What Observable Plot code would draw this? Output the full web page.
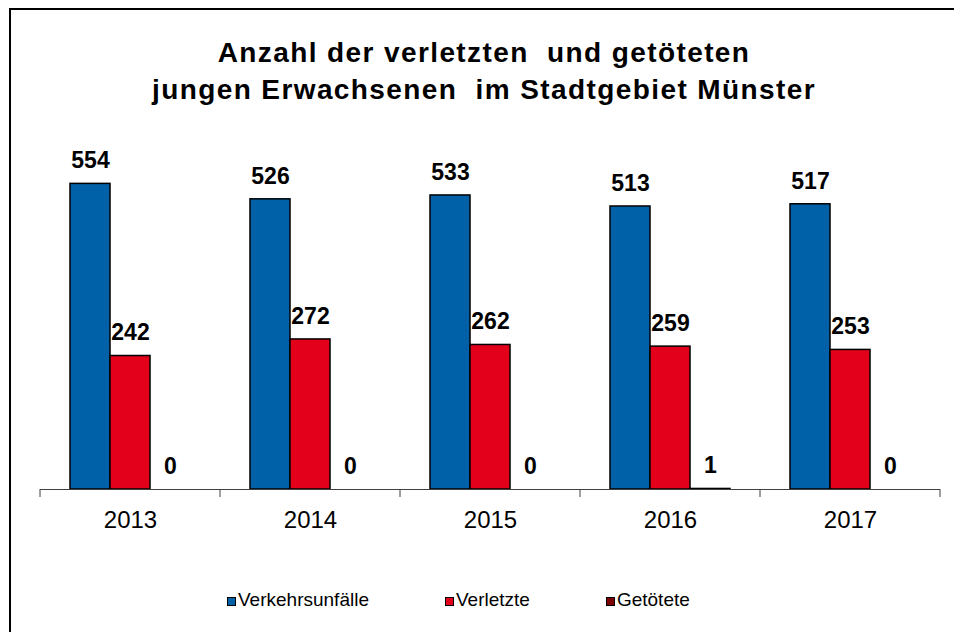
<!DOCTYPE html>
<html>
<head>
<meta charset="utf-8">
<script src="https://cdn.jsdelivr.net/npm/d3@7"></script>
<script src="https://cdn.jsdelivr.net/npm/@observablehq/plot@0.6"></script>
<style>
  html, body { margin: 0; padding: 0; background: #fff; overflow: hidden; }
  #wrap { position: relative; width: 954px; height: 632px; overflow: hidden; font-family: "Liberation Sans", Arial, sans-serif; color: #000; }
  #frame { position: absolute; left: 9px; top: 8px; width: 1000px; height: 700px; border-top: 2px solid #000; border-left: 2px solid #000; }
  #title { position: absolute; left: 14px; top: 34px; width: 940px; text-align: center; font-size: 28px; font-weight: bold; line-height: 37px; letter-spacing: 1.4px; white-space: pre; }
  #chart { position: absolute; left: 0; top: 115px; }
  #legend { position: absolute; left: 227px; top: 590px; display: flex; gap: 76px; font-size: 19px; line-height: 20px; }
  .item { display: flex; align-items: center; }
  .sw { width: 7px; height: 7px; border: 1px solid #000; margin-right: 2px; margin-top: 2px; }
</style>
</head>
<body>
<div id="wrap">
  <div id="frame"></div>
  <div id="title">Anzahl der verletzten  und getöteten
jungen Erwachsenen  im Stadtgebiet Münster</div>
  <div id="chart"></div>
  <div id="legend"></div>
</div>
<script>
const years = ["2013", "2014", "2015", "2016", "2017"];
const series = ["Verkehrsunfälle", "Verletzte", "Getötete"];
const verkehrsunfaelle = [554, 526, 533, 513, 517];
const verletzte = [242, 272, 262, 259, 253];
const getoetete = [0, 0, 0, 1, 0];
const colors = ["#0060A8", "#E2001A", "#7B0000"];

const valuesBySeries = [verkehrsunfaelle, verletzte, getoetete];
const rows = [];
years.forEach((year, i) => {
  series.forEach((s, j) => {
    rows.push({year, series: s, value: valuesBySeries[j][i]});
  });
});

const chart = Plot.plot({
  width: 954,
  height: 430,
  marginLeft: 39,
  marginRight: 14,
  marginTop: 43,
  marginBottom: 56,
  fx: {domain: years, padding: 0, label: null, tickSize: 0, tickPadding: 21, axis: "bottom"},
  x: {domain: series, paddingInner: 0, paddingOuter: 0.75, axis: null},
  y: {domain: [0, 600], axis: null},
  color: {domain: series, range: colors},
  style: {fontFamily: "'Liberation Sans', Arial, sans-serif", fontSize: "24px", color: "#000", background: "transparent"},
  marks: [
    Plot.barY(rows.filter(d => d.value > 0), {fx: "year", x: "series", y: "value", fill: "series", stroke: "#000", strokeWidth: 1.5}),
    Plot.ruleY([0], {stroke: "#404040", strokeWidth: 1}),
    Plot.text(rows, {fx: "year", x: "series", y: "value", text: d => String(d.value), dy: -23, fontSize: 23, fontWeight: "bold", fill: "#000"})
  ]
});

// tick marks at the category boundaries, placed through the fx and y scales
const fx = chart.scale("fx");
const ys = chart.scale("y");
const edges = years.map(y => fx.apply(y)).concat([fx.apply(years[years.length - 1]) + fx.bandwidth]);
const y0 = ys.apply(0);
d3.select(chart).append("g")
  .attr("stroke", "#404040")
  .selectAll("line")
  .data(edges)
  .join("line")
  .attr("x1", d => d).attr("x2", d => d)
  .attr("y1", y0).attr("y2", y0 + 8);

document.getElementById("chart").appendChild(chart);

const legend = d3.select("#legend");
series.forEach((s, j) => {
  const item = legend.append("div").attr("class", "item");
  item.append("div").attr("class", "sw").style("background", colors[j]);
  item.append("span").text(s);
});
</script>
</body>
</html>
